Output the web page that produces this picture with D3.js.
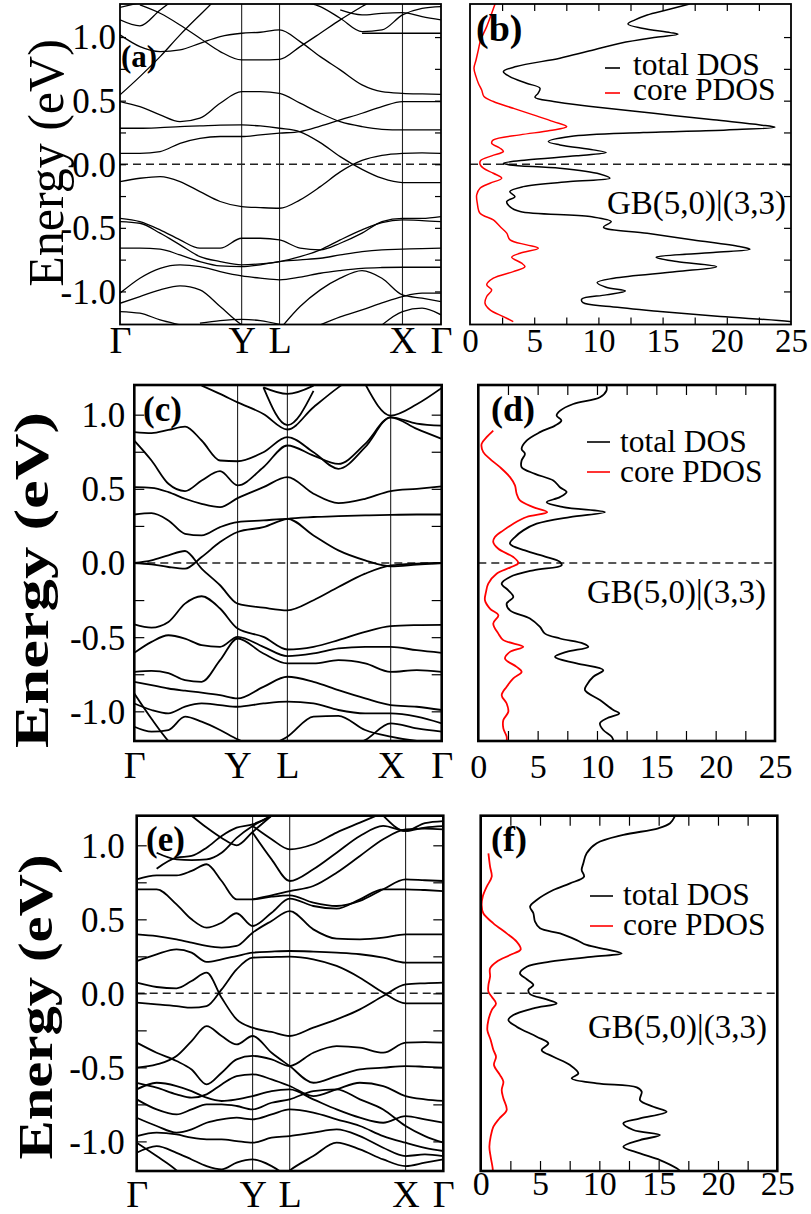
<!DOCTYPE html>
<html>
<head>
<meta charset="utf-8">
<script src="https://cdn.jsdelivr.net/npm/d3@7"></script>
<style>
  body { margin: 0; background: #fff; }
  svg { display: block; }
  text { font-family: "Liberation Serif", "Times New Roman", serif; }
</style>
</head>
<body>
<svg id="fig" width="811" height="1214"></svg>
<script>
const _ = null;

// ---- k-path (fractional path coordinate) and labels ----
const kLabels = ["Γ", "Y", "L", "X", "Γ"];
const kTicksA = [0, 0.379, 0.497, 0.880, 1];
const kTicksC = [0, 0.336, 0.498, 0.834, 1];
const kTicksE = [0, 0.378, 0.499, 0.877, 1];

const kGridA = [0, .062, .125, .187, .249, .312, .379, .437, .497, .561, .624, .686, .754, .816, .880, .941, 1];
const kGridC = [0, .056, .111, .165, .219, .279, .336, .42, .498, .583, .664, .751, .834, .919, 1];
const kGridE = [0, .065, .13, .179, .228, .277, .326, .378, .44, .499, .576, .652, .728, .804, .877, .94, 1];

// ---- band energies (eV) sampled on the k grids ----
const bandsA = [
  [-0.136,-0.11,-0.097,-0.136,-0.215,-0.293,-0.333,-0.341,-0.346,-0.28,-0.176,-0.06,0.03,0.07,0.086,0.09,0.086],
  [0.086,0.086,0.1,0.165,0.204,0.218,0.218,0.231,0.244,0.257,0.3,0.349,0.401,0.453,0.493,0.493,0.493],
  [0.283,0.283,0.288,0.296,0.301,0.307,0.309,0.301,0.283,0.255,0.17,0.06,-0.04,-0.11,-0.144,-0.144,-0.144],
  [0.493,0.453,0.388,0.335,0.362,0.48,0.571,0.571,0.558,0.48,0.401,0.335,0.296,0.275,0.27,0.27,0.27],
  [0.545,0.689,0.846,1.017,1.174,1.33,_,_,_,_,_,_,_,_,_,_,_],
  [1.017,0.925,0.886,0.899,0.951,1.004,1.03,1.038,1.056,0.964,0.846,0.742,0.624,0.571,0.558,0.553,0.55],
  [_,1.253,1.187,1.095,0.991,0.886,0.82,0.82,0.825,0.925,1.03,1.135,1.24,1.33,_,_,_],
  [1.135,1.088,1.213,1.33,_,_,_,_,_,_,_,_,_,_,_,_,_],
  [1.234,1.27,_,_,_,_,_,_,_,_,_,_,_,_,_,_,_],
  [_,_,_,_,_,_,_,_,_,1.28,1.24,1.148,1.043,1.056,1.174,1.226,1.24],
  [_,_,_,_,_,_,_,_,_,_,_,1.213,1.174,1.187,1.192,1.161,1.135],
  [_,_,_,_,_,_,_,_,_,_,_,_,1.03,1.03,1.03,1.03,1.03],
  [-0.425,-0.451,-0.516,-0.595,-0.66,-0.66,-0.582,-0.582,-0.595,-0.66,-0.673,-0.621,-0.542,-0.451,-0.425,-0.425,-0.411],
  [-0.451,-0.464,-0.542,-0.634,-0.726,-0.765,-0.791,-0.783,-0.765,-0.726,-0.673,-0.595,-0.516,-0.459,-0.438,-0.443,-0.451],
  [-0.66,-0.66,-0.668,-0.713,-0.765,-0.799,-0.805,-0.791,-0.765,-0.752,-0.739,-0.713,-0.687,-0.673,-0.668,-0.663,-0.66],
  [-1.014,-0.896,-0.818,-0.791,-0.805,-0.844,-0.878,-0.896,-0.909,-0.888,-0.857,-0.836,-0.818,-0.812,-0.81,-0.81,-0.81],
  [-1.093,-1.04,-0.988,-0.957,-0.988,-1.119,-1.263,-1.35,_,_,_,_,_,_,_,_,_],
  [-1.158,-1.171,-1.224,-1.263,-1.3,_,_,_,_,_,_,_,_,_,_,_,_],
  [_,_,_,_,_,_,_,_,-1.3,-1.119,-0.988,-0.896,-0.836,-0.896,-1.027,-1.053,-1.08],
  [_,_,_,_,_,_,_,_,_,_,-1.263,-1.2,-1.145,-1.09,-1.04,-1.014,-1.014],
  [_,_,_,_,_,_,_,_,_,_,_,_,_,-1.263,-1.158,-1.132,-1.184],
  [_,_,_,_,-1.25,-1.23,-1.22,-1.23,-1.26,_,_,_,_,_,_,_,_]
];

const bandsC = [
  [0,-0.009,-0.027,-0.038,0.04,0.141,0.209,0.242,0.298,0.31,0.316,0.321,0.325,0.327,0.327],
  [0,0.018,0.052,0.081,-0.038,-0.15,-0.274,-0.301,-0.319,-0.251,-0.162,-0.072,-0.016,-0.004,0],
  [0.327,0.336,0.287,0.197,0.186,0.242,0.276,0.287,0.298,0.186,0.085,0.018,-0.022,-0.011,0],
  [0.511,0.507,0.478,0.433,0.399,0.377,0.437,0.511,0.579,0.467,0.404,0.433,0.485,0.5,0.516],
  [0.825,0.691,0.534,0.485,0.556,0.619,0.523,0.646,0.792,0.724,0.668,0.803,0.982,0.904,0.837],
  [0.882,0.875,0.897,0.92,0.826,0.691,0.686,0.747,0.848,0.747,0.635,0.781,0.982,0.94,0.926],
  [_,_,_,_,1.196,1.14,1.083,1.005,0.9,1.05,1.184,1.3,_,_,_],
  [_,_,_,_,_,_,_,1.184,0.93,1.16,_,_,_,_,_],
  [_,_,_,_,_,_,_,1.184,1.14,1.196,_,_,_,_,_],
  [_,_,_,_,_,_,_,_,_,_,_,1.207,0.994,1.07,1.18],
  [-0.413,-0.435,-0.397,-0.274,-0.224,-0.307,-0.442,-0.498,-0.583,-0.565,-0.52,-0.464,-0.426,-0.419,-0.417],
  [-0.606,-0.532,-0.487,-0.51,-0.554,-0.565,-0.498,-0.565,-0.628,-0.61,-0.576,-0.565,-0.565,-0.588,-0.606],
  [-0.734,-0.727,-0.743,-0.79,-0.801,-0.655,-0.509,-0.61,-0.677,-0.677,-0.655,-0.677,-0.734,-0.722,-0.734],
  [-0.801,-0.823,-0.846,-0.861,-0.874,-0.891,-0.913,-0.835,-0.767,-0.801,-0.857,-0.913,-0.958,-0.969,-0.991],
  [-0.947,-0.991,-1.014,-0.969,-0.947,-0.958,-0.969,-0.947,-0.935,-0.947,-0.991,-1.014,-1.014,-1.036,-1.081],
  [-1.104,-1.137,-1.126,-1.036,-1.07,-1.126,-1.189,-1.25,_,_,_,_,_,_,_],
  [_,_,_,_,_,_,_,-1.25,-1.171,-1.036,-1.03,-1.126,-1.171,-1.2,-1.21],
  [_,_,_,_,_,_,_,_,_,_,-1.25,-1.193,-1.081,-1.115,-1.137],
  [-0.88,-1.05,-1.2,-1.3,_,_,_,_,_,_,_,_,_,_,_]
];

const bandsE = [
  [0.072,0.043,0.034,0.083,0.14,-0.03,-0.176,-0.232,-0.261,-0.288,-0.232,-0.176,-0.108,-0.018,0.061,0.068,0.072],
  [-0.063,-0.074,-0.086,-0.097,-0.086,0.027,0.162,0.241,0.245,0.248,0.23,0.185,0.106,0.005,-0.068,-0.068,-0.068],
  [0.218,0.264,0.297,0.275,0.212,0.23,0.252,0.275,0.282,0.286,0.282,0.275,0.264,0.241,0.207,0.207,0.207],
  [0.399,0.387,0.365,0.343,0.32,0.309,0.32,0.41,0.489,0.556,0.432,0.369,0.365,0.376,0.399,0.399,0.399],
  [0.703,0.703,0.601,0.5,0.444,0.477,0.541,0.455,0.545,0.64,0.59,0.572,0.635,0.703,0.703,0.698,0.691],
  [0.77,0.797,0.797,0.827,0.872,0.759,0.635,0.635,0.653,0.662,0.613,0.59,0.624,0.703,0.77,0.764,0.759],
  [_,0.842,0.917,0.928,0.984,1.063,1.119,1.142,1.2,1.3,_,_,_,_,_,_,_],
  [_,_,_,_,_,_,_,1.086,0.905,0.759,0.838,0.95,1.063,1.131,1.097,1.12,1.13],
  [_,_,_,_,_,_,_,1.131,1.041,0.973,1.007,1.086,1.153,1.22,_,_,_],
  [_,_,_,_,_,_,_,0.635,0.662,0.691,0.725,0.815,0.928,1.041,1.108,1.113,1.108],
  [_,_,_,_,_,_,_,_,_,_,_,_,_,1.2,1.097,1.15,1.164],
  [_,0.95,0.905,0.9,0.905,0.95,1.05,1.13,1.2,_,_,_,_,_,_,_,_],
  [_,_,_,1.2,1.12,1.05,1.0,1.09,1.2,_,_,_,_,_,_,_,_],
  [-0.333,-0.401,-0.457,-0.514,-0.615,-0.536,-0.446,-0.423,-0.446,-0.491,-0.401,-0.356,-0.367,-0.401,-0.333,-0.329,-0.333],
  [-0.502,-0.48,-0.423,-0.322,-0.221,-0.288,-0.345,-0.288,-0.401,-0.491,-0.604,-0.559,-0.514,-0.502,-0.491,-0.496,-0.502],
  [-0.604,-0.637,-0.682,-0.705,-0.682,-0.615,-0.559,-0.547,-0.581,-0.626,-0.694,-0.649,-0.604,-0.626,-0.694,-0.716,-0.727],
  [-0.649,-0.604,-0.626,-0.66,-0.705,-0.727,-0.716,-0.694,-0.66,-0.649,-0.716,-0.784,-0.84,-0.874,-0.829,-0.851,-0.874],
  [-0.716,-0.784,-0.818,-0.784,-0.75,-0.75,-0.761,-0.784,-0.739,-0.716,-0.66,-0.649,-0.716,-0.784,-0.896,-0.964,-1.009],
  [-0.84,-0.896,-0.941,-0.919,-0.874,-0.851,-0.84,-0.851,-0.818,-0.784,-0.806,-0.851,-0.896,-0.964,-1.009,-1.043,-1.065],
  [-0.964,-0.941,-0.953,-0.975,-0.986,-0.986,-0.998,-1.009,-0.975,-0.964,-0.941,-0.919,-0.964,-1.043,-1.099,-1.088,-1.099],
  [-1.077,-1.032,-1.077,-1.122,-1.167,-1.189,-1.144,-1.122,-1.167,-1.25,_,_,_,_,_,_,_],
  [_,_,_,_,_,_,_,_,-1.3,-1.196,-1.099,-1.009,-1.054,-1.122,-1.167,-1.144,-1.122],
  [-1.009,-1.099,-1.196,-1.3,_,_,_,_,_,_,_,_,_,_,_,_,_]
];

// ---- densities of states: [energy (eV), states/eV] ----
const totalDosB = [[1.26,17.1],[1.213,15.3],[1.174,13.8],[1.135,12.85],[1.103,12.3],[1.069,13.4],[1.035,15.6],[1.022,16.2],[0.998,14.5],[0.951,11.7],[0.886,9.1],[0.834,7.0],[0.768,3.6],[0.728,2.6],[0.689,3.1],[0.637,4.4],[0.598,5.45],[0.558,5.3],[0.527,5.06],[0.493,6.5],[0.453,9.6],[0.401,14.3],[0.349,18.95],[0.309,22.6],[0.291,23.75],[0.27,20.0],[0.249,13.5],[0.218,7.8],[0.178,6.1],[0.152,7.0],[0.113,9.6],[0.092,10.6],[0.066,8.3],[0.034,4.4],[0.008,2.6],[-0.005,3.1],[-0.031,7.0],[-0.076,10.1],[-0.11,10.9],[-0.136,7.8],[-0.176,4.15],[-0.215,3.1],[-0.254,3.5],[-0.293,2.86],[-0.333,3.1],[-0.372,3.9],[-0.411,9.35],[-0.451,11.0],[-0.495,10.4],[-0.542,13.8],[-0.595,17.4],[-0.647,21.0],[-0.668,21.8],[-0.694,18.95],[-0.731,14.5],[-0.765,16.1],[-0.805,19.2],[-0.844,16.1],[-0.896,11.2],[-0.93,9.9],[-0.967,10.6],[-0.996,12.1],[-1.027,10.6],[-1.061,8.7],[-1.088,8.8],[-1.119,10.9],[-1.158,14.8],[-1.198,19.5],[-1.237,24.9],[-1.27,27]];
const coreDosB = [[1.26,1.95],[1.187,1.69],[1.082,1.3],[0.977,0.83],[0.899,0.65],[0.82,0.47],[0.755,0.31],[0.689,0.47],[0.637,0.65],[0.584,0.91],[0.532,1.09],[0.493,1.82],[0.44,3.37],[0.388,4.93],[0.335,6.5],[0.296,7.53],[0.265,6.23],[0.231,3.9],[0.191,1.82],[0.165,1.69],[0.126,2.34],[0.1,2.6],[0.066,1.69],[0.029,0.83],[0,0.78],[-0.031,1.04],[-0.071,1.82],[-0.11,2.47],[-0.149,1.56],[-0.189,0.78],[-0.241,0.52],[-0.307,0.57],[-0.385,0.78],[-0.438,1.82],[-0.49,2.34],[-0.542,2.86],[-0.595,3.12],[-0.634,4.41],[-0.66,5.32],[-0.7,3.9],[-0.731,3.25],[-0.778,4.02],[-0.805,4.28],[-0.844,3.37],[-0.896,1.82],[-0.948,1.3],[-0.988,1.69],[-1.04,1.3],[-1.093,1.17],[-1.145,1.56],[-1.198,2.6],[-1.237,3.37]];

const totalDosD = [[1.196,10.8],[1.162,10.8],[1.117,10.25],[1.072,8.0],[1.027,6.9],[0.994,6.6],[0.96,7.0],[0.926,6.46],[0.882,5.2],[0.825,4.07],[0.769,3.65],[0.736,3.93],[0.691,3.65],[0.646,3.65],[0.601,4.78],[0.556,6.32],[0.511,6.88],[0.478,7.44],[0.444,6.88],[0.41,5.76],[0.377,7.16],[0.343,10.67],[0.31,7.72],[0.265,4.92],[0.22,3.79],[0.175,3.09],[0.13,2.67],[0.085,3.93],[0.04,5.76],[0.007,6.88],[-0.016,7.02],[-0.049,4.63],[-0.094,2.67],[-0.139,1.97],[-0.184,2.53],[-0.229,2.95],[-0.274,2.39],[-0.319,2.67],[-0.374,4.35],[-0.431,5.2],[-0.476,5.62],[-0.509,6.88],[-0.543,8.85],[-0.565,9.27],[-0.599,7.44],[-0.633,6.46],[-0.677,8.29],[-0.722,10.53],[-0.767,9.69],[-0.823,9.13],[-0.857,8.99],[-0.924,10.25],[-0.991,11.38],[-1.014,11.88],[-1.048,10.81],[-1.081,10.25],[-1.126,10.53],[-1.171,11.24],[-1.2,11.4]];
const coreDosD = [[0.893,1.26],[0.848,0.7],[0.803,0.28],[0.747,0.42],[0.702,0.98],[0.646,1.83],[0.579,2.67],[0.523,3.09],[0.467,3.23],[0.422,3.51],[0.377,4.63],[0.343,5.81],[0.31,4.07],[0.265,2.95],[0.22,2.11],[0.175,1.4],[0.141,1.26],[0.096,1.69],[0.04,2.95],[0,3.37],[-0.031,2.67],[-0.072,1.54],[-0.139,0.84],[-0.195,0.65],[-0.251,0.56],[-0.307,0.98],[-0.352,1.69],[-0.408,1.26],[-0.476,1.69],[-0.52,2.11],[-0.565,3.79],[-0.599,2.67],[-0.644,2.25],[-0.7,3.23],[-0.734,3.65],[-0.778,2.95],[-0.834,2.39],[-0.891,1.97],[-0.947,2.39],[-1.003,2.53],[-1.059,2.11],[-1.115,2.11],[-1.171,2.39],[-1.2,2.39]];

const totalDosF = [[1.2,16.4],[1.149,15.96],[1.115,14.97],[1.07,12.02],[1.014,9.78],[0.946,8.93],[0.878,8.65],[0.833,8.51],[0.788,8.71],[0.743,7.53],[0.698,6.12],[0.631,4.72],[0.586,4.16],[0.541,4.44],[0.484,4.58],[0.439,5.0],[0.405,6.69],[0.36,8.09],[0.327,8.93],[0.297,10.62],[0.27,11.88],[0.248,9.49],[0.214,5.84],[0.18,3.88],[0.135,3.31],[0.095,3.88],[0.056,4.44],[0.023,4.02],[-0.005,4.16],[-0.041,5.56],[-0.068,6.4],[-0.101,4.44],[-0.146,2.75],[-0.18,2.33],[-0.225,3.03],[-0.293,4.72],[-0.338,5.7],[-0.383,5.14],[-0.428,6.12],[-0.484,7.53],[-0.541,8.23],[-0.574,7.67],[-0.608,9.78],[-0.635,13.15],[-0.664,13.57],[-0.721,13.43],[-0.766,14.55],[-0.8,15.67],[-0.845,13.43],[-0.878,12.02],[-0.923,12.87],[-0.957,15.11],[-0.991,13.43],[-1.036,12.02],[-1.081,13.43],[-1.126,15.11],[-1.182,16.52],[-1.2,16.8]];
const coreDosF = [[0.946,0.65],[0.856,0.79],[0.788,0.93],[0.721,0.51],[0.653,0.17],[0.597,0.08],[0.541,0.22],[0.473,1.07],[0.405,2.19],[0.349,3.03],[0.297,3.37],[0.259,2.47],[0.214,1.35],[0.169,0.79],[0.113,0.79],[0.056,0.65],[0.011,0.65],[-0.023,0.93],[-0.068,1.29],[-0.113,0.93],[-0.18,0.65],[-0.248,0.56],[-0.315,0.84],[-0.383,1.07],[-0.428,1.29],[-0.484,1.12],[-0.552,1.63],[-0.597,1.91],[-0.653,1.77],[-0.709,1.91],[-0.788,2.19],[-0.845,1.57],[-0.901,1.07],[-0.968,0.84],[-1.036,0.73],[-1.104,0.84],[-1.182,1.01],[-1.2,1.02]];

// ---- tick values and texts ----
const energyTicks = [-1, -0.5, 0, 0.5, 1];
const energyMinorTicks = [-1, -0.75, -0.5, -0.25, 0, 0.25, 0.5, 0.75, 1];
const dosTicks = [0, 5, 10, 15, 20, 25];
const dosMinorTicks = [2.5, 5, 7.5, 10, 12.5, 15, 17.5, 20, 22.5];
const legendLabels = ["total DOS", "core PDOS"];
const seriesColors = ["#000000", "#ff0000"];
const structureLabel = "GB(5,0)|(3,3)";
const energyTitle = "Energy (eV)";

const svg = d3.select("#fig");
const SERIF = '"Liberation Serif", "Times New Roman", serif';

function frame(g, x0, x1, y0, y1, w) {
  g.append("rect").attr("x", x0).attr("y", y0).attr("width", x1 - x0).attr("height", y1 - y0)
    .attr("fill", "none").attr("stroke", "#000").attr("stroke-width", w);
}

function clip(id, x0, x1, y0, y1) {
  svg.append("clipPath").attr("id", id).append("rect")
    .attr("x", x0).attr("y", y0).attr("width", x1 - x0).attr("height", y1 - y0);
  return `url(#${id})`;
}

function zeroLine(g, x0, x1, yz, w) {
  g.append("line").attr("x1", x0).attr("x2", x1).attr("y1", yz).attr("y2", yz)
    .attr("stroke", "#222").attr("stroke-width", w).attr("stroke-dasharray", "8,5");
}

function drawBandPanel(p) {
  const g = svg.append("g");
  const x = d3.scaleLinear().domain([0, 1]).range([p.x0, p.x1]);
  const y = d3.scaleLinear().domain([-p.eMax, p.eMax]).range([p.y1, p.y0]);
  const cp = clip("clip-" + p.id, p.x0, p.x1, p.y0, p.y1);

  // high-symmetry verticals
  g.selectAll("line.sym").data(p.kTicks.slice(1, -1)).join("line")
    .attr("x1", d => x(d)).attr("x2", d => x(d)).attr("y1", p.y0).attr("y2", p.y1)
    .attr("stroke", "#222").attr("stroke-width", 1.1);

  zeroLine(g, p.x0, p.x1, y(0), 1.5);

  const line = d3.line().defined(d => d[1] != null)
    .x(d => x(d[0])).y(d => y(d[1])).curve(d3.curveMonotoneX);
  g.append("g").attr("clip-path", cp).selectAll("path").data(p.bands).join("path")
    .attr("d", b => line(p.kGrid.map((k, i) => [k, b[i]])))
    .attr("fill", "none").attr("stroke", "#000").attr("stroke-width", p.lineW)
    .attr("stroke-linejoin", "round");

  // inward ticks on both energy axes
  g.append("g").attr("transform", `translate(${p.x0},0)`)
    .call(d3.axisLeft(y).tickValues(energyMinorTicks).tickSize(-p.tickLen).tickFormat(""))
    .call(a => a.select(".domain").remove())
    .selectAll("line").attr("stroke-width", 1.2);
  g.append("g").attr("transform", `translate(${p.x1},0)`)
    .call(d3.axisRight(y).tickValues(energyMinorTicks).tickSize(-p.tickLen).tickFormat(""))
    .call(a => a.select(".domain").remove())
    .selectAll("line").attr("stroke-width", 1.2);

  // energy tick labels
  const ya = g.append("g").attr("transform", `translate(${p.x0},0)`)
    .call(d3.axisLeft(y).tickValues(energyTicks).tickSize(0).tickPadding(p.labelPad)
      .tickFormat(d => d.toFixed(1)));
  ya.select(".domain").remove();
  ya.selectAll("text").attr("font-family", SERIF).attr("font-size", p.tickFont)
    .attr("fill", "#000").attr("dy", "0.34em");

  // k-point labels
  const xa = g.append("g").attr("transform", `translate(0,${p.kLabelY})`)
    .call(d3.axisBottom(x).tickValues(p.kTicks).tickSize(0).tickPadding(0)
      .tickFormat((d, i) => kLabels[i]));
  xa.select(".domain").remove();
  xa.selectAll("text").attr("font-family", SERIF).attr("font-size", p.kFont)
    .attr("fill", "#000").attr("dy", 0).attr("y", 0);

  frame(g, p.x0, p.x1, p.y0, p.y1, p.frameW);

  // panel tag
  g.append("text").attr("x", p.tagX).attr("y", p.tagY).attr("font-size", p.tagSize)
    .attr("font-family", SERIF).attr("font-weight", "bold").text(p.tag);

  // energy axis title
  const t = g.append("text")
    .attr("transform", `translate(${p.title.x},${p.title.y}) rotate(-90)`)
    .attr("text-anchor", "middle").attr("font-size", p.title.size)
    .attr("font-family", SERIF).attr("font-weight", p.title.weight).text(energyTitle);
  if (p.title.len) t.attr("textLength", p.title.len).attr("lengthAdjust", "spacingAndGlyphs");
}

function drawDosPanel(p) {
  const g = svg.append("g");
  const x = d3.scaleLinear().domain([0, 25]).range([p.x0, p.x1]);
  const y = d3.scaleLinear().domain([-p.eMax, p.eMax]).range([p.y1, p.y0]);
  const cp = clip("clip-" + p.id, p.x0, p.x1, p.y0, p.y1);

  zeroLine(g, p.x0, p.x1, y(0), 1.5);

  const line = d3.line().x(d => x(d[1])).y(d => y(d[0])).curve(d3.curveCatmullRom.alpha(0.5));
  const lg = g.append("g").attr("clip-path", cp);
  [p.total, p.core].forEach((s, i) => {
    lg.append("path").attr("d", line(s)).attr("fill", "none")
      .attr("stroke", seriesColors[i]).attr("stroke-width", p.lineW).attr("stroke-linejoin", "round");
  });

  // inward ticks top and bottom
  g.append("g").attr("transform", `translate(0,${p.y1})`)
    .call(d3.axisBottom(x).tickValues(dosMinorTicks).tickSize(-p.tickLen).tickFormat(""))
    .call(a => a.select(".domain").remove())
    .selectAll("line").attr("stroke-width", 1.2);
  g.append("g").attr("transform", `translate(0,${p.y0})`)
    .call(d3.axisTop(x).tickValues(dosMinorTicks).tickSize(-p.tickLen).tickFormat(""))
    .call(a => a.select(".domain").remove())
    .selectAll("line").attr("stroke-width", 1.2);
  if (p.rightTicks) {
    g.append("g").attr("transform", `translate(${p.x1},0)`)
      .call(d3.axisRight(y).tickValues(energyMinorTicks).tickSize(-p.tickLen).tickFormat(""))
      .call(a => a.select(".domain").remove())
      .selectAll("line").attr("stroke-width", 1.2);
  }

  // DOS tick labels
  const xa = g.append("g").attr("transform", `translate(0,${p.labelY})`)
    .call(d3.axisBottom(x).tickValues(dosTicks).tickSize(0).tickPadding(0));
  xa.select(".domain").remove();
  xa.selectAll("text").attr("font-family", SERIF).attr("font-size", p.tickFont)
    .attr("fill", "#000").attr("dy", 0).attr("y", 0);

  frame(g, p.x0, p.x1, p.y0, p.y1, p.frameW);

  g.append("text").attr("x", p.tagX).attr("y", p.tagY).attr("font-size", p.tagSize)
    .attr("font-family", SERIF).attr("font-weight", "bold").text(p.tag);

  // legend
  const L = p.legend;
  legendLabels.forEach((lab, i) => {
    const by = L.y + i * L.gap;
    g.append("line").attr("x1", L.x).attr("x2", L.x + L.len)
      .attr("y1", by - L.lift).attr("y2", by - L.lift)
      .attr("stroke", seriesColors[i]).attr("stroke-width", 1.6);
    g.append("text").attr("x", L.tx).attr("y", by).attr("font-size", L.size)
      .attr("font-family", SERIF).text(lab);
  });

  g.append("text").attr("x", p.gb.x).attr("y", p.gb.y).attr("font-size", p.gb.size)
    .attr("font-family", SERIF).text(structureLabel);
}

// ---- layout ----
drawBandPanel({
  id: "a", x0: 120, x1: 441, y0: 4, y1: 324.5, eMax: 1.26,
  kGrid: kGridA, kTicks: kTicksA, bands: bandsA,
  lineW: 1.3, frameW: 1.8, tickLen: 6, tickFont: 35, labelPad: 4,
  kLabelY: 353, kFont: 38,
  tag: "(a)", tagX: 121, tagY: 67, tagSize: 31,
  title: { x: 63, y: 163, size: 50, weight: "normal" }
});
drawDosPanel({
  id: "b", x0: 470, x1: 791, y0: 4, y1: 324.5, eMax: 1.26,
  total: totalDosB, core: coreDosB, rightTicks: true,
  lineW: 1.5, frameW: 1.8, tickLen: 7, tickFont: 33, labelY: 352,
  tag: "(b)", tagX: 476, tagY: 41, tagSize: 38,
  legend: { x: 605, len: 15, tx: 633, y: 75, gap: 25, lift: 7, size: 31.5 },
  gb: { x: 607, y: 214, size: 33 }
});
drawBandPanel({
  id: "c", x0: 134.3, x1: 441.7, y0: 385, y1: 741, eMax: 1.2,
  kGrid: kGridC, kTicks: kTicksC, bands: bandsC,
  lineW: 1.8, frameW: 2.6, tickLen: 10, tickFont: 35, labelPad: 9,
  kLabelY: 778, kFont: 38,
  tag: "(c)", tagX: 143, tagY: 421, tagSize: 35,
  title: { x: 48, y: 580, size: 48, weight: "bold", len: 336 }
});
drawDosPanel({
  id: "d", x0: 478.3, x1: 775, y0: 385, y1: 741, eMax: 1.2,
  total: totalDosD, core: coreDosD, rightTicks: false,
  lineW: 1.8, frameW: 2.6, tickLen: 10, tickFont: 34, labelY: 778,
  tag: "(d)", tagX: 491, tagY: 421, tagSize: 36,
  legend: { x: 587, len: 23, tx: 620, y: 452, gap: 30, lift: 10, size: 31.5 },
  gb: { x: 587, y: 603, size: 33 }
});
drawBandPanel({
  id: "e", x0: 136.7, x1: 443.3, y0: 815.7, y1: 1171, eMax: 1.2,
  kGrid: kGridE, kTicks: kTicksE, bands: bandsE,
  lineW: 1.8, frameW: 2.6, tickLen: 10, tickFont: 35, labelPad: 12,
  kLabelY: 1207, kFont: 38,
  tag: "(e)", tagX: 146, tagY: 851, tagSize: 35,
  title: { x: 52, y: 1007, size: 48, weight: "bold", len: 305 }
});
drawDosPanel({
  id: "f", x0: 480.7, x1: 777.3, y0: 815.7, y1: 1171, eMax: 1.2,
  total: totalDosF, core: coreDosF, rightTicks: false,
  lineW: 1.8, frameW: 2.6, tickLen: 10, tickFont: 34, labelY: 1195,
  tag: "(f)", tagX: 491, tagY: 851, tagSize: 36,
  legend: { x: 590, len: 23, tx: 623, y: 905, gap: 30, lift: 9, size: 31.5 },
  gb: { x: 588, y: 1038, size: 33 }
});
</script>
</body>
</html>
